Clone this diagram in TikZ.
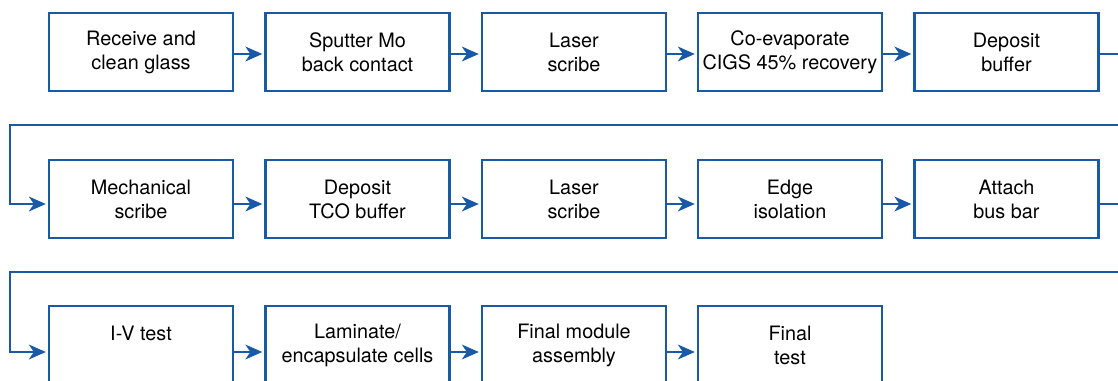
\documentclass[tikz,border=0pt]{standalone}
\usepackage{fontspec}
\setmainfont{TeX Gyre Heros}
\usetikzlibrary{arrows.meta}
\definecolor{clrFlow}{HTML}{1A59A6}
\tikzset{
  stepbox/.style={rectangle, draw=clrFlow, line width=1.5pt, fill=white,
    minimum width=4.6cm, minimum height=1.95cm, align=center,
    inner sep=2pt, font=\fontsize{14.1}{17.1}\selectfont},
  flow/.style={-{Stealth[length=12pt, width=10.5pt, inset=3.5pt]},
    line width=1.5pt, draw=clrFlow, shorten >=1.5pt},
}

\begin{document}
\begin{tikzpicture}[x=0.025cm, y=-0.025cm]

\useasboundingbox (0,0) rectangle (1118,381);
\clip (0,0) rectangle (1118,381);

\def\cA{141}     % Spaltenmitten (px)
\def\cB{357.5}
\def\cC{574}
\def\cD{790}
\def\cE{1006.5}
\def\rA{52}      % Zeilenmitten (px)
\def\rB{199}
\def\rC{345}

% Zeile 1
\node[stepbox] (recv)    at (\cA, \rA) {Receive and\\clean glass};
\node[stepbox] (sputter) at (\cB, \rA) {Sputter Mo\\back contact};
\node[stepbox] (scribeA) at (\cC, \rA) {Laser\\scribe};
\node[stepbox] (coevap)  at (\cD, \rA) {Co-evaporate\\CIGS 45\% recovery};
\node[stepbox] (bufA)    at (\cE, \rA) {Deposit\\buffer};

% Zeile 2
\node[stepbox] (mech)    at (\cA, \rB) {Mechanical\\scribe};
\node[stepbox] (tco)     at (\cB, \rB) {Deposit\\TCO buffer};
\node[stepbox] (scribeB) at (\cC, \rB) {Laser\\scribe};
\node[stepbox] (edgeiso) at (\cD, \rB) {Edge\\isolation};
\node[stepbox] (busbar)  at (\cE, \rB) {Attach\\bus bar};

% Zeile 3
\node[stepbox] (ivtest)   at (\cA, \rC) {I-V test\\\mbox{}};
\node[stepbox] (laminate) at (\cB, \rC) {Laminate/\\encapsulate cells};
\node[stepbox] (assembly) at (\cC, \rC) {Final module\\assembly};
\node[stepbox] (final)    at (\cD, \rC) {Final\\test};

\foreach \a/\b in {recv/sputter, sputter/scribeA, scribeA/coevap, coevap/bufA}
  \draw[flow] ([yshift=-0.05cm]\a.east) -- ([yshift=-0.05cm]\b.west);
\foreach \a/\b in {mech/tco, tco/scribeB, scribeB/edgeiso, edgeiso/busbar}
  \draw[flow] ([yshift=-0.125cm]\a.east) -- ([yshift=-0.125cm]\b.west);
\foreach \a/\b in {ivtest/laminate, laminate/assembly, assembly/final}
  \draw[flow] ([yshift=-0.175cm]\a.east) -- ([yshift=-0.175cm]\b.west);

% Zeilenumbruch: rechts raus, zurueck nach links, in die naechste Zeile
\coordinate (turnA) at (10, 125);
\coordinate (turnB) at (10, 272);
\draw[flow] ([yshift=-0.05cm]bufA.east) -- ++(1cm,0) |- (turnA)
  |- ([yshift=-0.125cm]mech.west);
\draw[flow] ([yshift=-0.125cm]busbar.east) -- ++(1cm,0) |- (turnB)
  |- ([yshift=-0.175cm]ivtest.west);

\end{tikzpicture}
\end{document}
